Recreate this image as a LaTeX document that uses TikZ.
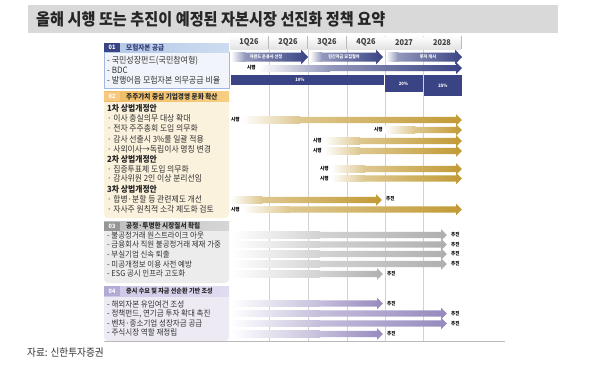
\documentclass[tikz,border=0pt]{standalone}
\usepackage{fontspec}
\newfontfamily\kr[FakeStretch=0.92]{Noto Sans CJK KR}
\definecolor{navy}{RGB}{58,68,132}
\definecolor{goldc}{RGB}{194,154,52}
\definecolor{grayc}{RGB}{175,175,175}
\definecolor{purp}{RGB}{150,137,190}
\definecolor{titlegray}{RGB}{217,217,217}
\definecolor{p1body}{RGB}{241,245,251}
\definecolor{p1line}{RGB}{160,185,220}
\definecolor{p1barl}{RGB}{178,200,230}
\definecolor{p1barr}{RGB}{205,220,240}
\definecolor{p2body}{RGB}{251,242,222}
\definecolor{p2num}{RGB}{246,200,130}
\definecolor{p2barl}{RGB}{240,188,100}
\definecolor{p2barr}{RGB}{246,206,130}
\definecolor{p3body}{RGB}{236,236,236}
\definecolor{p3num}{RGB}{150,150,150}
\definecolor{p3barl}{RGB}{190,190,190}
\definecolor{p3barr}{RGB}{214,214,214}
\definecolor{p4body}{RGB}{237,234,244}
\definecolor{p4num}{RGB}{180,170,214}
\definecolor{p4barl}{RGB}{205,198,230}
\definecolor{p4barr}{RGB}{225,220,240}
\tikzset{
 body/.style={anchor=west, inner sep=0, font=\kr\fontsize{8.5}{8.5}\selectfont, text=black!80},
 bodyb/.style={anchor=west, inner sep=0, font=\kr\bfseries\fontsize{8.5}{8.5}\selectfont, text=black!85},
 lbl/.style={anchor=west, inner sep=0, font=\kr\bfseries\fontsize{5}{5}\selectfont, text=black},
 inl/.style={inner sep=0, font=\kr\bfseries\fontsize{4.5}{4.5}\selectfont, text=white},
 hdr/.style={inner sep=0, font=\kr\bfseries\fontsize{8}{8}\selectfont, text=black!75},
 ptitle/.style={anchor=west, inner sep=0, font=\kr\bfseries\fontsize{7.2}{7.5}\selectfont, text=black!85},
 pnum/.style={inner sep=0, font=\kr\bfseries\fontsize{6}{6}\selectfont, text=white},
}
% x0, xmid, xtip, y, colour, half shaft, head extra, head length
\newcommand{\GArrow}[8]{%
  \shade[left color=white, right color=#5!55] (#1,#4-#6) rectangle (#2,#4+#6);
  \shade[left color=#5!55, right color=#5] (#2-0.2,#4-#6) -- (#3-#8,#4-#6) -- (#3-#8,#4-#6-#7) -- (#3,#4) -- (#3-#8,#4+#6+#7) -- (#3-#8,#4+#6) -- (#2-0.2,#4+#6) -- cycle;
}
\begin{document}
\begin{tikzpicture}[x=1pt,y=-1pt]
\useasboundingbox (0,0) rectangle (590,365);
\fill[white] (0,0) rectangle (590,365);
% title
\fill[titlegray] (28,5) rectangle (558,33);
\node[anchor=west, inner sep=0, font=\kr\bfseries\fontsize{16.5}{17}\selectfont, text=black!85] (title) at (36,19.5) {올해 시행 또는 추진이 예정된 자본시장 선진화 정책 요약};

% grid lines
\foreach \x in {269,308,347,385,423} \draw[gray!35, line width=0.5] (\x,49) -- (\x,341);
% header cells
\foreach \x/\l [count=\i] in {230/1Q26,269/2Q26,308/3Q26,347/4Q26,385/2027,423/2028} {
  \shade[top color=white, bottom color=gray!22] (\x+0.5,36) rectangle (\x+38,49);
  \draw[gray!55, line width=1] (\x+38.3,36) -- (\x+38.3,49);
  \node[hdr] (h\i) at (\x+19,42.5) {\l};
}

% ---------- panel 01
\fill[p1body, draw=p1line, line width=0.5] (104,52) rectangle (229,88);
\shade[left color=p1barl, right color=p1barr] (104,43) rectangle (229,52);
\fill[navy] (104,43) rectangle (120,52);
\node[pnum] (n1) at (112,47.5) {01};
\node[ptitle, text=navy!90!black] (p1) at (126,47.5) {모험자본 공급};
\foreach \t/\y [count=\i] in {{- 국민성장펀드(국민참여형)}/61,{- BDC}/70.5,{- 발행어음 모험자본 의무공급 비율}/80}
  \node[body, font=\kr\fontsize{8.7}{8.7}\selectfont] (a\i) at (107,\y) {\t};

% ---------- panel 02
\fill[p2body] (104,100) [rounded corners=4] -- (104,218) -- (229,218) [sharp corners] -- (229,100) -- cycle;
\shade[left color=p2barl, right color=p2barr] (104,91.5) rectangle (229,101);
\fill[p2num] (104,91.5) rectangle (120,101);
\node[pnum] (n2) at (112,96.3) {02};
\node[ptitle] (p2) at (126,96.3) {주주가치 중심 기업경영 문화 확산};
\node[bodyb] (b1) at (107,108) {1차 상법개정안};
\node[body] (b2) at (107,118) {· 이사 충실의무 대상 확대};
\node[body] (b3) at (107,128) {· 전자 주주총회 도입 의무화};
\node[body] (b4) at (107,139) {· 감사 선출시 3\%룰 일괄 적용};
\node[body] (b5) at (107,149) {· 사외이사→독립이사 명칭 변경};
\node[bodyb] (b6) at (107,159) {2차 상법개정안};
\node[body] (b7) at (107,169) {· 집중투표제 도입 의무화};
\node[body] (b8) at (107,178.5) {· 감사위원 2인 이상 분리선임};
\node[bodyb] (b9) at (107,189) {3차 상법개정안};
\node[body] (b10) at (107,199.5) {· 합병·분할 등 관련제도 개선};
\node[body] (b11) at (107,209.5) {· 자사주 원칙적 소각 제도화 검토};

% ---------- panel 03
\fill[p3body] (104,230) [rounded corners=4] -- (104,283) -- (229,283) [sharp corners] -- (229,230) -- cycle;
\shade[left color=p3barl, right color=p3barr] (104,221.5) rectangle (229,230.5);
\fill[p3num] (104,221.5) rectangle (120,230.5);
\node[pnum] (n3) at (112,226) {03};
\node[ptitle] (p3) at (126,226) {공정·투명한 시장질서 확립};
\foreach \t/\y [count=\i] in {{- 불공정거래 원스트라이크 아웃}/235,{- 금융회사 직원 불공정거래 제재 가중}/244.5,{- 부실기업 신속 퇴출}/254,{- 미공개정보 이용 사전 예방}/264,{- ESG 공시 인프라 고도화}/273.5}
  \node[body, font=\kr\fontsize{8.1}{8.1}\selectfont] (c\i) at (107,\y) {\t};

% ---------- panel 04
\fill[p4body] (104,296) [rounded corners=4] -- (104,341) -- (229,341) [sharp corners] -- (229,296) -- cycle;
\shade[left color=p4barl, right color=p4barr] (104,286) rectangle (229,296);
\fill[p4num] (104,286) rectangle (120,296);
\node[pnum] (n4) at (112,291) {04};
\node[ptitle, font=\kr\bfseries\fontsize{6.6}{7}\selectfont] (p4) at (126,291) {증시 수요 및 자금 선순환 기반 조성};
\foreach \t/\y [count=\i] in {{- 해외자본 유입여건 조성}/304,{- 정책펀드, 연기금 투자 확대 촉진}/313.5,{- 벤처·중소기업 성장자금 공급}/323,{- 주식시장 역할 재정립}/332.5}
  \node[body, font=\kr\fontsize{8.2}{8.2}\selectfont] (d\i) at (107,\y) {\t};

% bottom rule
\draw[gray!55, line width=0.6] (104,341.5) -- (505,341.5);

% ---------- section 01 timeline
\GArrow{231}{245}{308}{57}{navy}{4.5}{3}{7}
\node[inl] (r1a) at (266,57) {자펀드 운용사 선정};
\GArrow{310}{322}{383}{57}{navy}{4.5}{3}{7}
\node[inl] (r1b) at (344,57) {민간자금 모집절차};
\GArrow{386}{398}{462}{57}{navy}{4.5}{3}{7}
\node[inl] (r1c) at (428,57) {투자 개시};
\node[lbl] (r2l) at (247,68) {시행};
\GArrow{258}{330}{462}{68}{navy}{3}{3}{6}
\fill[navy] (231,75) rectangle (383.5,85);
\node[inl] (r3a) at (300,80) {10\%};
\fill[navy] (384.5,75) rectangle (422.5,92);
\node[inl] (r3b) at (403.5,84) {20\%};
\fill[navy] (423.5,75) rectangle (462,96);
\node[inl] (r3c) at (443,86) {25\%};

% ---------- section 02 timeline
\node[lbl] (g1l) at (231,120) {시행};
\GArrow{242}{300}{462}{120}{goldc}{3.2}{2.6}{6}
\node[lbl] (g2l) at (374,130) {시행};
\GArrow{385}{415}{462}{130}{goldc}{3.2}{2.6}{6}
\node[lbl] (g3l) at (313,141) {시행};
\GArrow{324}{360}{462}{141}{goldc}{3.2}{2.6}{6}
\node[lbl] (g4l) at (313,151) {시행};
\GArrow{324}{360}{462}{151}{goldc}{3.2}{2.6}{6}
\node[lbl] (g5l) at (320,169) {시행};
\GArrow{331}{365}{462}{169}{goldc}{3.2}{2.6}{6}
\node[lbl] (g6l) at (320,178.5) {시행};
\GArrow{331}{365}{462}{178.5}{goldc}{3.2}{2.6}{6}
\GArrow{231}{262}{382}{200}{goldc}{3.2}{2.6}{6}
\node[lbl] (g7l) at (386,199) {추진};
\node[lbl] (g8l) at (231,209.5) {시행};
\GArrow{242}{290}{462}{209.5}{goldc}{3.2}{2.6}{6}

% ---------- section 03 timeline
\foreach \y/\t [count=\i] in {235/447,244.5/447,254/447,264/447,274/383} {
  \GArrow{231}{320}{\t}{\y}{grayc}{3.2}{2.6}{6}
  \node[lbl] (s\i) at (\t+4,\y) {추진};
}

% ---------- section 04 timeline
\foreach \y/\t [count=\i] in {303.5/383,313.5/447,323.5/447,334/383} {
  \GArrow{231}{320}{\t}{\y}{purp}{3.2}{2.6}{6}
  \node[lbl] (u\i) at (\t+4,\y) {추진};
}

% source
\node[anchor=west, inner sep=0, font=\kr\fontsize{10.5}{11}\selectfont, text=black!80] (src) at (27,352.5) {자료: 신한투자증권};
\end{tikzpicture}
\end{document}
